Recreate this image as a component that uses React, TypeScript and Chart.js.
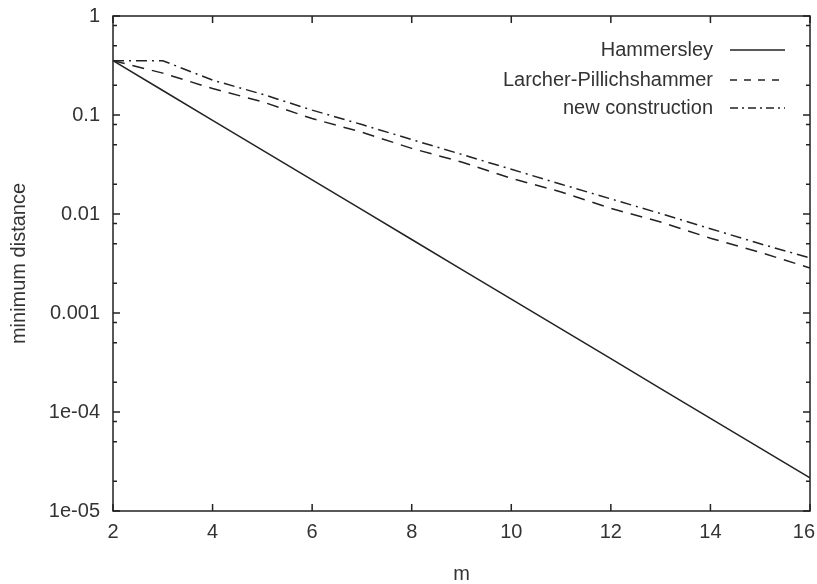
import React, { useEffect, useRef } from 'react';
import { Chart, registerables } from 'chart.js';

Chart.register(...registerables);

// ---- data ----
const mValues = [2, 3, 4, 5, 6, 7, 8, 9, 10, 11, 12, 13, 14, 15, 16];
const hammersley = [0.3536, 0.1768, 0.0884, 0.0442, 0.0221, 0.01105, 0.005524, 0.002762, 0.001381, 0.0006905, 0.0003453, 0.0001726, 0.0000863, 0.00004316, 0.00002158];
const larcherPillichshammer = [0.3536, 0.265, 0.185, 0.136, 0.092, 0.067, 0.046, 0.0335, 0.0229, 0.0167, 0.0114, 0.0083, 0.0057, 0.0041, 0.00285];
const newConstruction = [0.3536, 0.3536, 0.225, 0.162, 0.112, 0.08, 0.0565, 0.04, 0.0283, 0.02, 0.0142, 0.0101, 0.0071, 0.005, 0.0036];
const seriesLabels = ['Hammersley', 'Larcher-Pillichshammer', 'new construction'];
const xTickValues = [2, 4, 6, 8, 10, 12, 14, 16];
const yMajorTicks = [1e-5, 1e-4, 1e-3, 1e-2, 1e-1, 1];
const yTickLabels = ['1e-05', '1e-04', '0.001', '0.01', '0.1', '1'];
const yMinorMultipliers = [2, 5, 8];
const xTitle = 'm';
const yTitle = 'minimum distance';

const FONT = '"Liberation Sans", Arial, Helvetica, sans-serif';
const TEXT = '#333333';
const LINE = '#222222';
const dashes: number[][] = [[], [12, 8], [11, 5, 2, 5]];
const legendDashes: number[][] = [[], [7, 7], [8, 4, 2, 4]];

const framePlugin = {
  id: 'frameTicks',
  afterDatasetsDraw(chart: any) {
    const { ctx, chartArea: a, scales } = chart;
    const xs = scales.x;
    const ys = scales.y;
    ctx.save();
    ctx.strokeStyle = LINE;
    ctx.lineWidth = 1.5;
    ctx.setLineDash([]);
    ctx.strokeRect(a.left, a.top, a.right - a.left, a.bottom - a.top);
    ctx.beginPath();
    for (const v of xTickValues) {
      const px = xs.getPixelForValue(v);
      ctx.moveTo(px, a.bottom); ctx.lineTo(px, a.bottom - 7);
      ctx.moveTo(px, a.top); ctx.lineTo(px, a.top + 7);
    }
    for (const v of yMajorTicks) {
      const py = ys.getPixelForValue(v);
      ctx.moveTo(a.left, py); ctx.lineTo(a.left + 7, py);
      ctx.moveTo(a.right, py); ctx.lineTo(a.right - 7, py);
    }
    for (let i = 0; i < yMajorTicks.length - 1; i++) {
      for (const mult of yMinorMultipliers) {
        const py = ys.getPixelForValue(yMajorTicks[i] * mult);
        ctx.moveTo(a.left, py); ctx.lineTo(a.left + 4, py);
        ctx.moveTo(a.right, py); ctx.lineTo(a.right - 4, py);
      }
    }
    ctx.stroke();

    // last x tick label kept inside the canvas (right-aligned)
    ctx.font = `20px ${FONT}`;
    ctx.fillStyle = TEXT;
    ctx.textAlign = 'right';
    ctx.textBaseline = 'middle';
    const lastX = xTickValues[xTickValues.length - 1];
    ctx.fillText(String(lastX), chart.width - 2, a.bottom + 21);

    // legend
    const rows = [34, 64, 92];
    chart.data.datasets.forEach((ds: any, i: number) => {
      const y = a.top + rows[i];
      ctx.fillStyle = TEXT;
      ctx.fillText(ds.label, a.right - 97, y);
      ctx.beginPath();
      ctx.setLineDash(legendDashes[i]);
      ctx.lineWidth = 1.5;
      ctx.strokeStyle = LINE;
      ctx.moveTo(a.right - 80, y);
      ctx.lineTo(a.right - 25, y);
      ctx.stroke();
    });
    ctx.restore();
  },
};

export default function App() {
  const ref = useRef<HTMLCanvasElement | null>(null);
  useEffect(() => {
    document.body.style.margin = '0';
    const canvas = ref.current;
    if (!canvas) return;
    const series = [hammersley, larcherPillichshammer, newConstruction];
    const lastX = xTickValues[xTickValues.length - 1];
    const chart = new Chart(canvas, {
      type: 'line',
      data: {
        labels: mValues,
        datasets: series.map((vals, i) => ({
          label: seriesLabels[i],
          data: mValues.map((m, j) => ({ x: m, y: vals[j] })),
          borderColor: LINE,
          borderWidth: 1.5,
          borderDash: dashes[i],
          pointRadius: 0,
          fill: false,
          tension: 0,
        })),
      },
      options: {
        animation: false,
        responsive: false,
        devicePixelRatio: 1,
        layout: { padding: { top: 16, right: 7, left: 0, bottom: 0 } },
        plugins: { legend: { display: false }, tooltip: { enabled: false } },
        scales: {
          x: {
            type: 'linear',
            min: 2,
            max: 16,
            grid: { display: false, drawTicks: false },
            border: { display: false },
            afterBuildTicks: (s: any) => { s.ticks = xTickValues.map((v) => ({ value: v })); },
            afterFit: (s: any) => { s.height = 73; s.paddingLeft = 0; s.paddingRight = 0; },
            ticks: {
              autoSkip: false,
              maxRotation: 0,
              padding: 9,
              color: TEXT,
              font: { family: FONT, size: 20 },
              callback: (v: any) => (Number(v) === lastX ? '' : String(v)),
            },
            title: {
              display: true,
              text: xTitle,
              color: TEXT,
              font: { family: FONT, size: 20, lineHeight: 1 },
              padding: { top: 0, bottom: 0 },
            },
          },
          y: {
            type: 'logarithmic',
            min: 1e-5,
            max: 1,
            grid: { display: false, drawTicks: false },
            border: { display: false },
            afterBuildTicks: (s: any) => { s.ticks = yMajorTicks.map((v) => ({ value: v })); },
            afterFit: (s: any) => { s.width = 113; s.paddingTop = 0; s.paddingBottom = 0; },
            ticks: {
              autoSkip: false,
              padding: 13,
              color: TEXT,
              font: { family: FONT, size: 20 },
              callback: (v: any) => {
                const idx = yMajorTicks.findIndex((t) => Math.abs(Math.log10(t) - Math.log10(Number(v))) < 1e-6);
                return idx >= 0 ? yTickLabels[idx] : '';
              },
            },
            title: {
              display: true,
              text: yTitle,
              color: TEXT,
              font: { family: FONT, size: 20, lineHeight: 1 },
              padding: { top: 9, bottom: 0 },
            },
          },
        },
      },
      plugins: [framePlugin],
    } as any);
    return () => chart.destroy();
  }, []);
  return (
    <div style={{ position: 'absolute', left: 0, top: 0, width: 817, height: 584, background: '#fff' }}>
      <canvas ref={ref} width={817} height={584} style={{ display: 'block' }} />
    </div>
  );
}
